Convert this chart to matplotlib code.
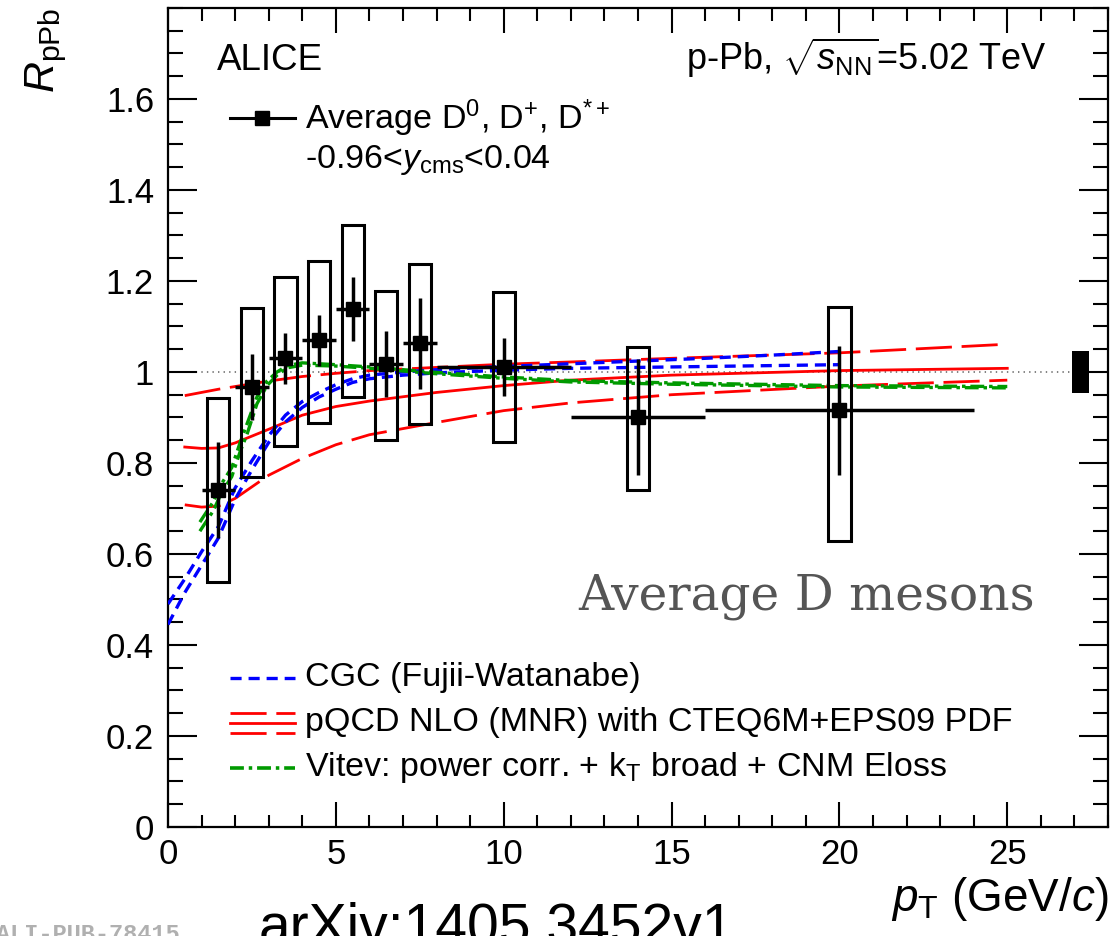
import numpy as np
import matplotlib
matplotlib.use("Agg")
import matplotlib.pyplot as plt
from matplotlib.lines import Line2D
from matplotlib.ticker import MultipleLocator

# ---------------- data ----------------
pt = [1.5, 2.5, 3.5, 4.5, 5.5, 6.5, 7.5, 10, 14, 20]
pt_err = [0.5, 0.5, 0.5, 0.5, 0.5, 0.5, 0.5, 2, 2, 4]
rppb = [0.74, 0.967, 1.03, 1.07, 1.138, 1.018, 1.063, 1.011, 0.901, 0.916]
stat = [0.105, 0.073, 0.056, 0.056, 0.070, 0.073, 0.100, 0.063, 0.128, 0.142]
sys_top = [0.943, 1.141, 1.209, 1.244, 1.322, 1.178, 1.237, 1.176, 1.055, 1.143]
sys_bot = [0.538, 0.769, 0.837, 0.888, 0.945, 0.850, 0.886, 0.846, 0.741, 0.629]
norm_pt = [27.17]
norm_lo = [0.954]
norm_hi = [1.046]

cgc_pt = [0, 0.5, 1.0, 1.5, 2.0, 2.5, 3.0, 3.5, 4.0, 4.5, 5.0, 5.5, 6, 7, 8, 10, 12, 14, 16, 18, 20]
cgc_hi = [0.49, 0.545, 0.605, 0.66, 0.745, 0.805, 0.86, 0.905, 0.935, 0.955, 0.972, 0.985, 0.993,
          1.0, 1.005, 1.012, 1.018, 1.024, 1.03, 1.037, 1.045]
cgc_lo = [0.445, 0.515, 0.575, 0.635, 0.72, 0.785, 0.845, 0.89, 0.922, 0.945, 0.962, 0.977, 0.985,
          0.993, 0.998, 1.004, 1.008, 1.01, 1.012, 1.014, 1.016]

vit_pt = [0.95, 1.35, 1.6, 1.9, 2.15, 2.35, 2.65, 2.95, 3.25, 3.55, 4.0, 5.0, 6.0, 7.0, 8.0,
          10, 12, 15, 20, 25]
vit_hi = [0.67, 0.715, 0.755, 0.79, 0.845, 0.885, 0.945, 0.98, 1.0, 1.014, 1.02, 1.016, 1.011,
          1.005, 0.999, 0.989, 0.981, 0.976, 0.970, 0.968]
vit_lo = [0.65, 0.695, 0.735, 0.77, 0.825, 0.862, 0.93, 0.97, 0.993, 1.009, 1.015, 1.013, 1.008,
          1.002, 0.996, 0.986, 0.978, 0.973, 0.967, 0.965]

pq_pt = [0.5, 1.0, 1.5, 2, 3, 4, 5, 6, 8, 10, 12, 15, 20, 25]
pq_cen = [0.835, 0.832, 0.833, 0.844, 0.874, 0.905, 0.924, 0.936, 0.955, 0.97, 0.982, 0.993, 1.003, 1.008]
pq_hi = [0.948, 0.955, 0.962, 0.968, 0.98, 0.99, 0.997, 1.003, 1.01, 1.017, 1.022, 1.03, 1.042, 1.061]
pq_lo = [0.708, 0.703, 0.705, 0.722, 0.773, 0.81, 0.84, 0.862, 0.889, 0.915, 0.932, 0.95, 0.969, 0.982]

xticks = [0, 5, 10, 15, 20, 25]
yticks = [0, 0.2, 0.4, 0.6, 0.8, 1.0, 1.2, 1.4, 1.6]
ytick_labels = ["0", "0.2", "0.4", "0.6", "0.8", "1", "1.2", "1.4", "1.6"]

# ---------------- style ----------------
plt.rcParams['font.family'] = ['Liberation Sans', 'DejaVu Sans']
plt.rcParams['mathtext.fontset'] = 'custom'
plt.rcParams['mathtext.rm'] = 'Liberation Sans'
plt.rcParams['mathtext.it'] = 'Liberation Sans:italic'
plt.rcParams['mathtext.bf'] = 'Liberation Sans:bold'
plt.rcParams['lines.scale_dashes'] = False

BLUE = '#0000ff'
RED = '#ff0000'
GREEN = '#009a00'
blue_ls = (0, (8, 5))
red_dash = (0, (26, 7))
green_ls = (0, (10, 3.5, 2.5, 3.5))

fig = plt.figure(figsize=(11.11, 9.36), dpi=100)
ax = fig.add_axes([0.1512, 0.1165, 0.8461, 0.875])
ax.set_xlim(0, 28)
ax.set_ylim(0, 1.8)

ax.axhline(1.0, color='#777777', lw=1.3, ls=(0, (1, 3)), zorder=1)

# theory
ax.plot(pq_pt, pq_cen, color=RED, lw=2.0, zorder=3)
ax.plot(pq_pt, pq_hi, color=RED, lw=2.0, ls=red_dash, zorder=3)
ax.plot(pq_pt, pq_lo, color=RED, lw=2.0, ls=red_dash, zorder=3)
ax.plot(cgc_pt, cgc_hi, color=BLUE, lw=2.4, ls=blue_ls, zorder=3)
ax.plot(cgc_pt, cgc_lo, color=BLUE, lw=2.4, ls=blue_ls, zorder=3)
ax.plot(vit_pt, vit_hi, color=GREEN, lw=2.4, ls=green_ls, zorder=3)
ax.plot(vit_pt, vit_lo, color=GREEN, lw=2.4, ls=green_ls, zorder=3)

# systematic boxes
heights = [t - b for t, b in zip(sys_top, sys_bot)]
ax.bar(pt, heights, bottom=sys_bot, width=0.66, fill=False, edgecolor='black', linewidth=2.2, zorder=4)
ax.bar(norm_pt, [h - l for h, l in zip(norm_hi, norm_lo)], bottom=norm_lo, width=0.5,
       color='black', zorder=4)

# data
ax.errorbar(pt, rppb, xerr=pt_err, yerr=stat, fmt='s', color='black', ms=10.5,
            elinewidth=2.5, capsize=0, zorder=5)

# ticks
ax.set_xticks(xticks)
ax.set_xticklabels([str(v) for v in xticks])
ax.xaxis.set_minor_locator(MultipleLocator(1))
ax.set_yticks(yticks)
ax.set_yticklabels(ytick_labels)
ax.yaxis.set_minor_locator(MultipleLocator(0.05))
ax.tick_params(axis='both', which='both', direction='in', top=True, right=True, width=1.5,
               labelsize=25)
ax.tick_params(axis='y', which='major', length=21, pad=10)
ax.tick_params(axis='y', which='minor', length=11)
ax.tick_params(axis='x', which='major', length=18, pad=8)
ax.tick_params(axis='x', which='minor', length=9)
for s in ax.spines.values():
    s.set_linewidth(1.6)

# axis titles
fig.text(1108 / 1111, 1 - 911 / 936, r'$p_{\mathrm{T}}$ (GeV/$c$)', ha='right', va='baseline', fontsize=33)
fig.text(46 / 1111, 1 - 8 / 936, r'$R_{\mathrm{pPb}}$', rotation=90, ha='center', va='top', fontsize=31)

# annotations
ax.text(0.052, 0.924, 'ALICE', transform=ax.transAxes, fontsize=26.5, va='baseline')
ax.text(0.934, 0.924, r'p-Pb, $\sqrt{s_{\mathrm{NN}}}$=5.02 TeV', transform=ax.transAxes,
        fontsize=26, ha='right', va='baseline')

# top legend
ax.add_line(Line2D([0.066, 0.135], [0.866, 0.866], transform=ax.transAxes, color='black', lw=2.2))
ax.add_line(Line2D([0.1005], [0.866], transform=ax.transAxes, color='black', marker='s', ms=10))
ax.text(0.146, 0.852, r'Average D$^{0}$, D$^{+}$, D$^{*+}$', transform=ax.transAxes,
        fontsize=24.5, va='baseline')
ax.text(0.146, 0.804, r'-0.96<$y_{\mathrm{cms}}$<0.04', transform=ax.transAxes,
        fontsize=24.5, va='baseline')

# bottom legend
lx0, lx1, tx = 0.066, 0.135, 0.146
rows = [0.182, 0.127, 0.072]
ax.add_line(Line2D([lx0, lx1], [rows[0]] * 2, transform=ax.transAxes, color=BLUE, lw=2.4, ls=blue_ls))
ax.add_line(Line2D([lx0, lx1], [rows[1] + 0.012] * 2, transform=ax.transAxes, color=RED, lw=2.0, ls=red_dash))
ax.add_line(Line2D([lx0, lx1], [rows[1]] * 2, transform=ax.transAxes, color=RED, lw=2.0))
ax.add_line(Line2D([lx0, lx1], [rows[1] - 0.012] * 2, transform=ax.transAxes, color=RED, lw=2.0, ls=red_dash))
ax.add_line(Line2D([lx0, lx1], [rows[2]] * 2, transform=ax.transAxes, color=GREEN, lw=2.6, ls=green_ls))
ax.text(tx, rows[0], 'CGC (Fujii-Watanabe)', transform=ax.transAxes, fontsize=24.5, va='center')
ax.text(tx, rows[1], 'pQCD NLO (MNR) with CTEQ6M+EPS09 PDF', transform=ax.transAxes, fontsize=24.5, va='center')
ax.text(tx, rows[2], r'Vitev: power corr. + k$_{\mathrm{T}}$ broad + CNM Eloss', transform=ax.transAxes,
        fontsize=24.5, va='center')

ax.text(0.679, 0.265, 'Average D mesons', transform=ax.transAxes, fontsize=35, ha='center',
        va='baseline', color='#555555', family='DejaVu Serif')

# footer
fig.text(-0.004, 1 - 941 / 936, 'ALI-PUB-78415', fontsize=17, color='#b0b0b0', family='Liberation Mono',
         weight='bold', va='baseline')
fig.text(259 / 1111, 1 - 944 / 936, 'arXiv:1405.3452v1', fontsize=41, va='baseline')

fig.savefig('out.png', dpi=100)
